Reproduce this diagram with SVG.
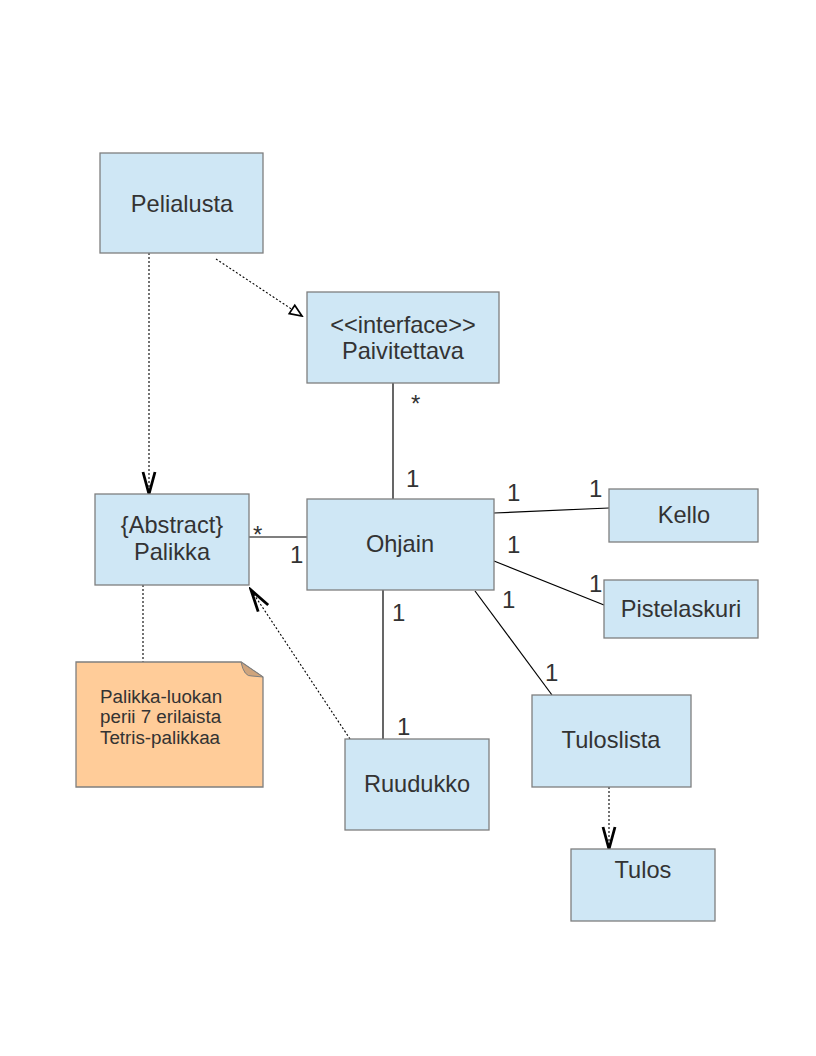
<svg xmlns="http://www.w3.org/2000/svg" width="816" height="1056" viewBox="0 0 816 1056">
<style>
.box{fill:#cfe7f5;stroke:#7f7f7f;stroke-width:1.3}
.t{font-family:"Liberation Sans",Arial,sans-serif;font-size:23.6px;fill:#333333;text-anchor:middle}
.m{font-family:"Liberation Sans",Arial,sans-serif;font-size:24px;fill:#333333}
.n{font-family:"Liberation Sans",Arial,sans-serif;font-size:18.8px;fill:#333333}
.solid{stroke:#000;stroke-width:1.2;fill:none}
.dot{stroke:#000;stroke-width:1.1;stroke-dasharray:2,2;fill:none}
</style>
<defs>
<marker id="open" markerUnits="userSpaceOnUse" markerWidth="26" markerHeight="16" viewBox="0 0 26 16" refX="23" refY="8" orient="auto">
<path d="M1,2 L23,8 L1,14" fill="none" stroke="#000" stroke-width="2.8"/>
</marker>
<marker id="tri" markerUnits="userSpaceOnUse" markerWidth="16" markerHeight="14" viewBox="0 0 16 14" refX="14" refY="7" orient="auto">
<path d="M2,2 L14,7 L2,12 Z" fill="#fff" stroke="#000" stroke-width="1.7"/>
</marker>
</defs>
<rect width="816" height="1056" fill="#fff"/>
<g id="connectors">
<line class="dot" x1="149" y1="253" x2="149" y2="494" marker-end="url(#open)"/>
<line class="dot" x1="216" y1="259" x2="302" y2="316" marker-end="url(#tri)"/>
<line class="solid" x1="393" y1="383" x2="393" y2="499"/>
<line class="solid" x1="249" y1="537" x2="307" y2="537"/>
<line class="solid" x1="494" y1="513" x2="609" y2="508"/>
<line class="solid" x1="494" y1="561" x2="604" y2="605"/>
<line class="solid" x1="475" y1="591" x2="552" y2="695"/>
<line class="solid" x1="383" y1="590" x2="383" y2="739"/>
<line class="dot" x1="350" y1="739" x2="251" y2="590" marker-end="url(#open)"/>
<line class="dot" x1="143" y1="585" x2="143" y2="662"/>
<line class="dot" x1="609" y1="787" x2="609" y2="849" marker-end="url(#open)"/>
<text class="m" x="411" y="412" font-size="21">*</text>
<text class="m" x="406" y="487">1</text>
<text class="m" x="253" y="543" font-size="21">*</text>
<text class="m" x="290" y="563">1</text>
<text class="m" x="507" y="501">1</text>
<text class="m" x="589" y="497">1</text>
<text class="m" x="507" y="553">1</text>
<text class="m" x="589" y="592">1</text>
<text class="m" x="502" y="608">1</text>
<text class="m" x="545" y="681">1</text>
<text class="m" x="392" y="621">1</text>
<text class="m" x="397" y="735">1</text>
</g>
<g id="Pelialusta"><rect class="box" x="100" y="153" width="163" height="100"/><text class="t" x="182" y="212">Pelialusta</text></g>
<g id="Paivitettava"><rect class="box" x="307" y="292" width="192" height="91"/><text class="t" x="403" y="333">&lt;&lt;interface&gt;&gt;</text><text class="t" x="403" y="359">Paivitettava</text></g>
<g id="Palikka"><rect class="box" x="95" y="494" width="154" height="91"/><text class="t" x="172" y="533">{Abstract}</text><text class="t" x="172" y="560">Palikka</text></g>
<g id="Ohjain"><rect class="box" x="307" y="499" width="187" height="91"/><text class="t" x="400" y="552">Ohjain</text></g>
<g id="Kello"><rect class="box" x="609" y="489" width="149" height="53"/><text class="t" x="684" y="523">Kello</text></g>
<g id="Pistelaskuri"><rect class="box" x="604" y="580" width="154" height="58"/><text class="t" x="681" y="617">Pistelaskuri</text></g>
<g id="Tuloslista"><rect class="box" x="532" y="695" width="159" height="92"/><text class="t" x="611" y="748">Tuloslista</text></g>
<g id="Tulos"><rect class="box" x="571" y="849" width="144" height="72"/><text class="t" x="643" y="878">Tulos</text></g>
<g id="Ruudukko"><rect class="box" x="345" y="739" width="144" height="91"/><text class="t" x="417" y="792">Ruudukko</text></g>
<g id="note">
<path d="M76,662 L241,662 L263,677 L263,787 L76,787 Z" fill="#ffcc99" stroke="#7f7f7f" stroke-width="1.3"/>
<path d="M241,662 Q244,677 252,676 L263,677 Z" fill="#cfa47c" stroke="#7f7f7f" stroke-width="1"/>
<text class="n" x="100" y="703">Palikka-luokan</text>
<text class="n" x="100" y="723">perii 7 erilaista</text>
<text class="n" x="100" y="744">Tetris-palikkaa</text>
</g>
</svg>
